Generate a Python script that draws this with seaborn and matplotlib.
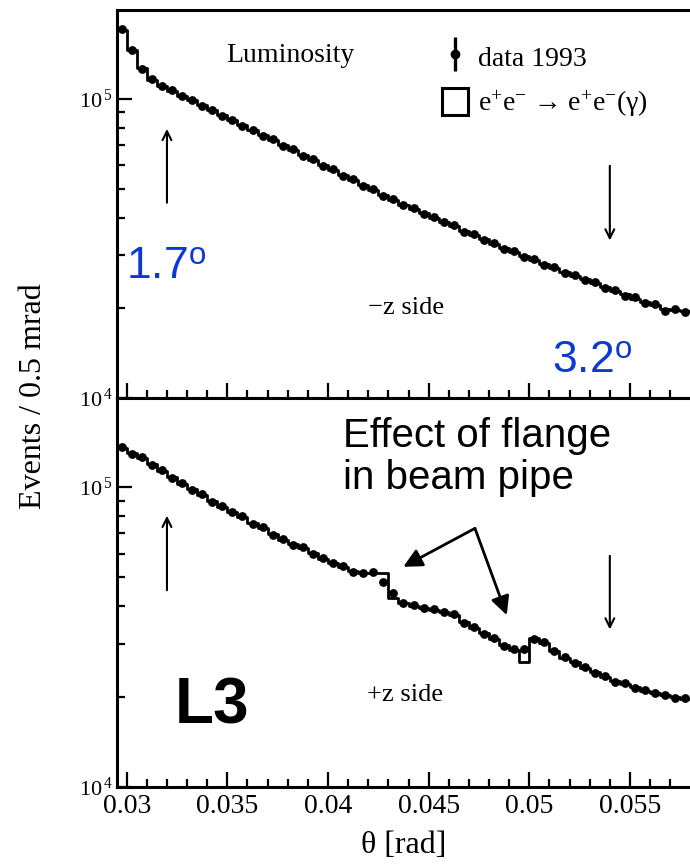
import numpy as np
import matplotlib
matplotlib.use("Agg")
import matplotlib.pyplot as plt
import seaborn as sns
from matplotlib.ticker import LogLocator, MultipleLocator, FuncFormatter, NullFormatter
from matplotlib.lines import Line2D
from matplotlib.patches import Patch
from matplotlib.legend_handler import HandlerTuple

# ---------------- data (events per 0.5 mrad, in thousands) ----------------
bin_edges = [0.0295, 0.0300, 0.0305, 0.0310, 0.0315, 0.0320, 0.0325, 0.0330, 0.0335, 0.0340,
             0.0345, 0.0350, 0.0355, 0.0360, 0.0365, 0.0370, 0.0375, 0.0380, 0.0385, 0.0390,
             0.0395, 0.0400, 0.0405, 0.0410, 0.0415, 0.0420, 0.0425, 0.0430, 0.0435, 0.0440,
             0.0445, 0.0450, 0.0455, 0.0460, 0.0465, 0.0470, 0.0475, 0.0480, 0.0485, 0.0490,
             0.0495, 0.0500, 0.0505, 0.0510, 0.0515, 0.0520, 0.0525, 0.0530, 0.0535, 0.0540,
             0.0545, 0.0550, 0.0555, 0.0560, 0.0565, 0.0570, 0.0575, 0.0580]

mc_minus_z = [170.3, 146.0, 127.0, 115.8, 110.6, 106.5, 102.5, 98.7, 95.0, 91.4,
              88.0, 84.7, 81.5, 78.5, 75.5, 72.7, 70.0, 67.3, 64.8, 62.4,
              60.1, 57.8, 55.7, 53.5, 51.5, 49.6, 47.8, 46.0, 44.3, 42.8,
              41.4, 40.1, 38.8, 37.5, 36.2, 35.0, 33.9, 32.8, 31.7, 30.7,
              29.8, 28.9, 28.0, 27.2, 26.4, 25.6, 24.9, 24.2, 23.5, 22.8,
              22.2, 21.5, 21.0, 20.4, 19.8, 19.7, 19.6]
data_minus_z = [171.5, 145.2, 126.1, 116.4, 110.1, 107.0, 102.0, 99.2, 94.6, 91.9,
                87.6, 85.1, 81.0, 78.9, 75.2, 73.1, 69.6, 67.7, 64.5, 62.8,
                59.8, 58.1, 55.4, 53.8, 51.2, 49.9, 47.5, 46.3, 44.0, 43.1,
                41.2, 40.3, 38.6, 37.8, 36.0, 35.2, 33.7, 33.0, 31.5, 30.9,
                29.6, 29.1, 27.8, 27.4, 26.2, 25.8, 24.7, 24.4, 23.3, 23.0,
                22.0, 21.7, 20.8, 20.6, 19.5, 19.9, 19.4]

mc_plus_z = [134.9, 129.9, 125.0, 119.3, 113.1, 108.0, 102.3, 98.5, 94.4, 89.8,
             85.8, 82.8, 79.4, 75.9, 73.0, 69.7, 66.6, 64.5, 62.6, 60.2,
             57.7, 55.9, 54.2, 52.3, 51.8, 51.8, 51.8, 42.6, 41.2, 40.2,
             39.6, 38.9, 38.4, 37.5, 35.5, 34.0, 32.6, 31.1, 29.8, 28.6,
             26.1, 31.3, 30.2, 28.5, 27.0, 26.1, 24.9, 24.1, 23.2, 22.6,
             22.1, 21.5, 20.9, 20.6, 20.2, 19.9, 19.7]
data_plus_z = [135.8, 129.1, 125.6, 118.7, 113.8, 107.4, 102.9, 98.0, 94.9, 89.3,
               86.3, 82.4, 79.9, 75.5, 73.4, 69.3, 67.0, 64.1, 62.9, 59.8,
               58.0, 55.6, 54.4, 52.0, 51.6, 51.9, 48.1, 44.2, 41.0, 40.4,
               39.4, 39.1, 38.2, 37.7, 35.3, 34.2, 32.4, 31.3, 29.6, 28.8,
               28.9, 31.2, 30.4, 28.3, 27.2, 25.9, 25.1, 23.9, 23.4, 22.4,
               22.2, 21.4, 21.0, 20.5, 20.3, 19.8, 19.8]

acceptance_limits = [0.032, 0.054]
x_ticks = [0.03, 0.035, 0.04, 0.045, 0.05, 0.055]

# ---------------- style ----------------
sns.set_style("ticks")
plt.rcParams["font.family"] = ["Liberation Serif", "DejaVu Serif"]
plt.rcParams["mathtext.fontset"] = "custom"
plt.rcParams["mathtext.rm"] = "Liberation Serif"
plt.rcParams["mathtext.it"] = "Liberation Serif:italic"
plt.rcParams["mathtext.sf"] = "Liberation Sans"
plt.rcParams["axes.linewidth"] = 2.2
for key in ["text.color", "axes.labelcolor", "xtick.color", "ytick.color", "axes.edgecolor"]:
    plt.rcParams[key] = "black"

edges = np.array(bin_edges)
centers = 0.5 * (edges[:-1] + edges[1:])

fig = plt.figure(figsize=(6.9, 8.65), dpi=100)
left = 117 / 690
width = 1 - left
ax_top = fig.add_axes([left, 1 - 398 / 865, width, 388 / 865])
ax_bot = fig.add_axes([left, 1 - 787 / 865, width, 389 / 865])

def draw_panel(ax, mc, data):
    mc_k = np.array(mc) * 1e3
    data_k = np.array(data) * 1e3
    sns.lineplot(x=edges, y=np.append(mc_k, mc_k[-1]), drawstyle="steps-post",
                 estimator=None, sort=False, color="black", lw=2.0, ax=ax, zorder=2)
    sns.scatterplot(x=centers, y=data_k, color="black", s=40, linewidth=0, ax=ax, zorder=3)
    ax.set_yscale("log")
    ax.set_xlim(0.029518, 0.057983)
    ax.set_ylim(1e4, 1.98e5)
    ax.xaxis.set_major_locator(plt.FixedLocator(x_ticks))
    ax.xaxis.set_minor_locator(MultipleLocator(0.001))
    ax.xaxis.set_major_formatter(FuncFormatter(lambda v, p: f"{v:g}"))
    ax.yaxis.set_major_locator(LogLocator(base=10, numticks=10))
    ax.yaxis.set_minor_locator(LogLocator(base=10, subs=np.arange(2, 10), numticks=20))
    ax.yaxis.set_major_formatter(FuncFormatter(lambda v, p: r"10$^{\,%d}$" % round(np.log10(v))))
    ax.yaxis.set_minor_formatter(NullFormatter())
    ax.tick_params(which="both", direction="in", top=False, right=False, width=1.6, colors="black")
    ax.tick_params(which="major", length=11)
    ax.tick_params(which="minor", length=6)
    ax.tick_params(axis="x", labelsize=20, pad=5)
    ax.tick_params(axis="y", labelsize=16, pad=3)
    ax.spines["right"].set_visible(False)
    ax.set_xlabel("")
    ax.set_ylabel("")

draw_panel(ax_top, mc_minus_z, data_minus_z)
draw_panel(ax_bot, mc_plus_z, data_plus_z)
ax_top.tick_params(labelbottom=False)

ax_bot.set_xlabel("\u03b8 [rad]", fontsize=23, labelpad=9)
fig.text(34 / 690, 1 - 396 / 865, "Events / 0.5 mrad", rotation=90,
         ha="center", va="center", fontsize=23)

# acceptance arrows
arr = dict(arrowstyle="->", lw=1.5, color="black", mutation_scale=16)
ax_top.annotate("", xy=(acceptance_limits[0], 81e3), xytext=(acceptance_limits[0], 44e3), arrowprops=arr)
ax_top.annotate("", xy=(acceptance_limits[1], 32.9e3), xytext=(acceptance_limits[1], 61e3), arrowprops=arr)
ax_bot.annotate("", xy=(acceptance_limits[0], 81.9e3), xytext=(acceptance_limits[0], 44.3e3), arrowprops=arr)
ax_bot.annotate("", xy=(acceptance_limits[1], 32.8e3), xytext=(acceptance_limits[1], 60.2e3), arrowprops=arr)

# texts
ax_top.text(0.302, 0.884, "Luminosity", transform=ax_top.transAxes, ha="center", va="center", fontsize=20)
ax_top.text(0.438, 0.232, "\u2212z side", transform=ax_top.transAxes, ha="left", va="center", fontsize=19)
ax_bot.text(0.436, 0.2365, "+z side", transform=ax_bot.transAxes, ha="left", va="center", fontsize=19)

blue = "#0a3ad2"
ax_top.text(0.0157, 0.309, r"1.7$^{\mathsf{o}}$", transform=ax_top.transAxes, ha="left", va="baseline",
            fontsize=32, color=blue, family="Liberation Sans")
ax_top.text(0.7586, 0.067, r"3.2$^{\mathsf{o}}$", transform=ax_top.transAxes, ha="left", va="baseline",
            fontsize=32, color=blue, family="Liberation Sans")
ax_bot.text(0.101, 0.1645, "L3", transform=ax_bot.transAxes, ha="left", va="baseline",
            fontsize=46, fontweight="bold", family="Liberation Sans", color="black")
ax_bot.text(0.394, 0.952, "Effect of flange\nin beam pipe", transform=ax_bot.transAxes,
            ha="left", va="top", fontsize=29, family="Liberation Sans", linespacing=1.15, color="black")

flange = dict(arrowstyle="-|>", lw=2.0, color="black", mutation_scale=28, shrinkA=0, shrinkB=0)
ax_bot.annotate("", xy=(0.04374, 54.2e3), xytext=(0.04730, 72.8e3), arrowprops=flange)
ax_bot.annotate("", xy=(0.04888, 37.4e3), xytext=(0.04730, 72.8e3), arrowprops=flange)

# legend
h_data = (Line2D([], [], ls="none", marker="|", ms=24, mew=2.4, color="black"),
          Line2D([], [], ls="none", marker="o", ms=6, color="black"))
h_mc = Patch(facecolor="white", edgecolor="black", lw=2.2)
ax_top.legend([h_data, h_mc], ["data 1993", "e$^{+}$e$^{-}$ \u2192 e$^{+}$e$^{-}$(\u03b3)"],
              handler_map={tuple: HandlerTuple(ndivide=1, pad=0)},
              loc="upper left", bbox_to_anchor=(0.567, 0.915), frameon=False, fontsize=20,
              borderpad=0, borderaxespad=0, handlelength=0.95, handleheight=1.1,
              handletextpad=0.36, labelspacing=0.6)

fig.savefig("out.png", dpi=100)
